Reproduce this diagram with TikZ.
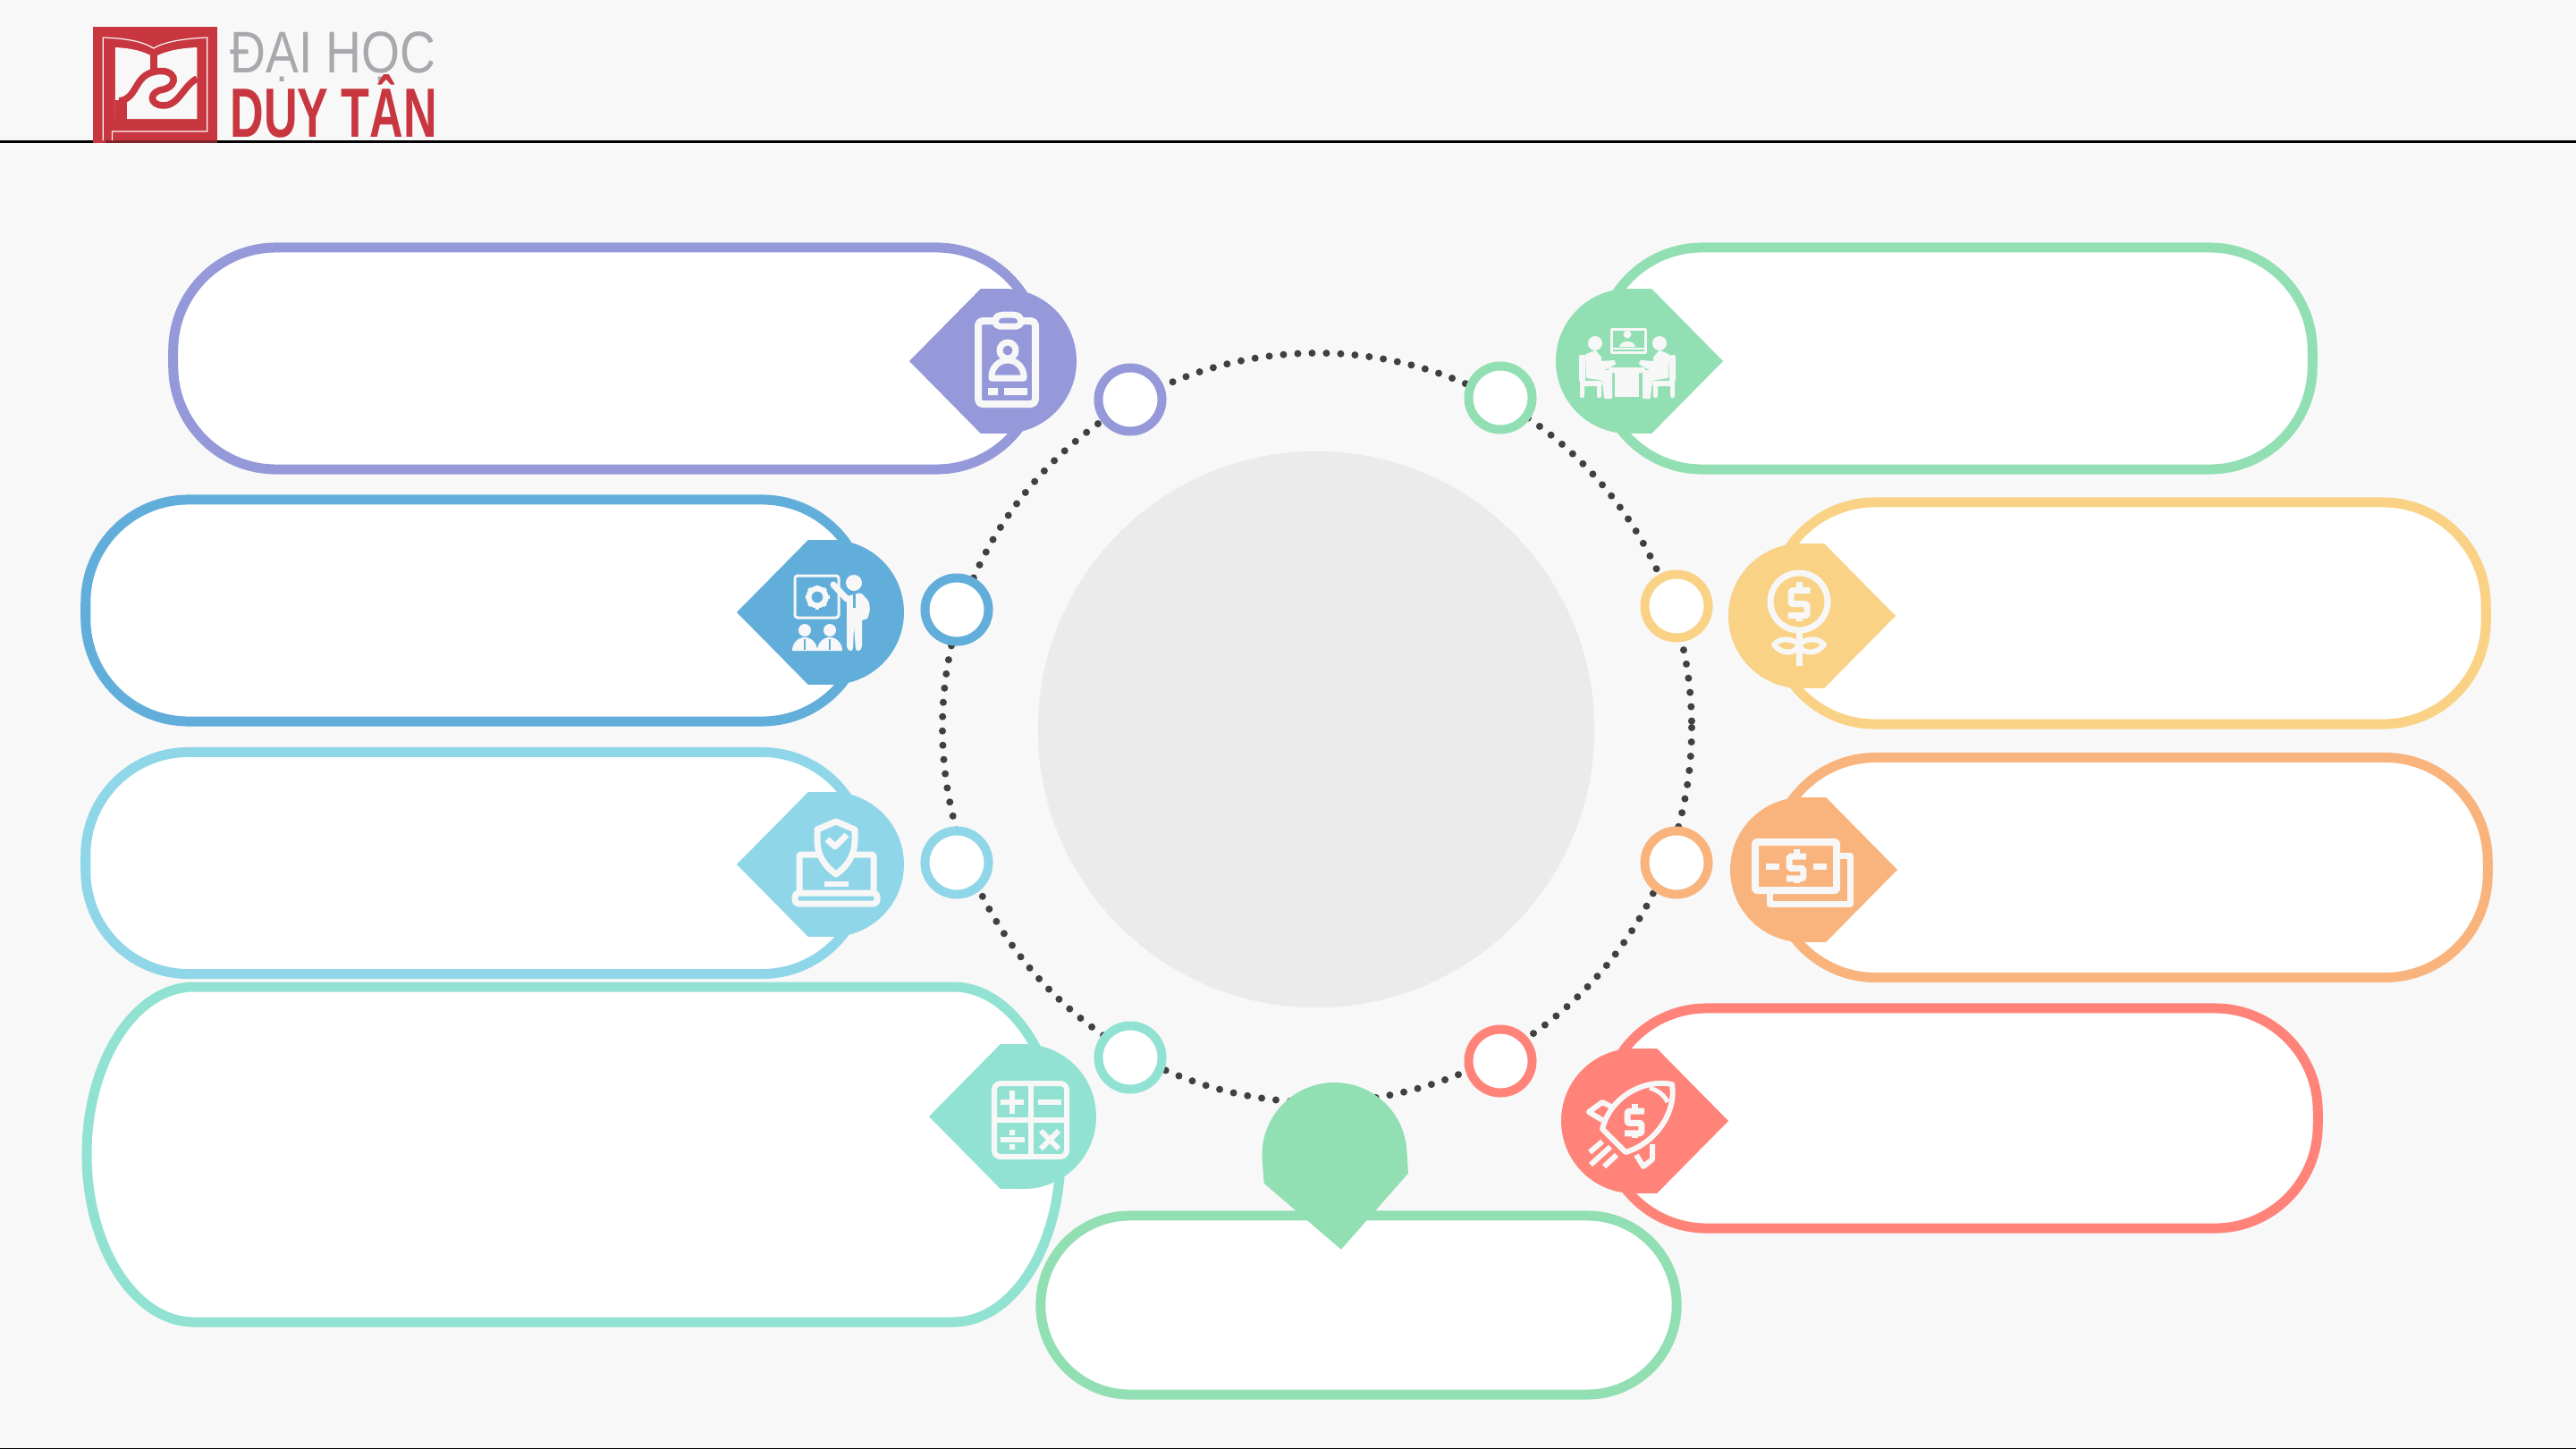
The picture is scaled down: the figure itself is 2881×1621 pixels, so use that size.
\documentclass[tikz,border=0pt]{standalone}
\usepackage{fontspec}
\setmainfont{Liberation Sans}
\usetikzlibrary{positioning}

\definecolor{pagebg}{HTML}{F8F8F8}
\definecolor{hubgrey}{HTML}{EBEBEB}
\definecolor{dotgrey}{HTML}{404040}
\definecolor{iconwhite}{HTML}{F7F7F7}
\definecolor{logored}{HTML}{C8363F}
\definecolor{logogrey}{HTML}{A7A9AC}
\definecolor{cviolet}{HTML}{9599D9}
\definecolor{cblue}{HTML}{62AEDB}
\definecolor{csky}{HTML}{8FD6E8}
\definecolor{cteal}{HTML}{92E2D3}
\definecolor{cgreen}{HTML}{92DFB3}
\definecolor{cyellow}{HTML}{F9D286}
\definecolor{corange}{HTML}{F9B47D}
\definecolor{cred}{HTML}{FF8379}

\newcommand{\badgeshape}[3]{%
  \begin{scope}[shift={(#2)}]
    \fill[#1] (#3:106) -- (#3+72:85) -- (#3+90:81)
      arc[start angle=#3+90, end angle=#3+270, radius=81] -- (#3-72:85) -- cycle;
  \end{scope}}

\tikzset{
  pillbox/.style={draw=#1, fill=white, line width=0.11cm, rounded corners=1.15cm,
    minimum height=2.48cm, inner sep=0},
  ringmark/.style={circle, draw=#1, fill=white, line width=0.1cm, minimum size=0.71cm, inner sep=0},
  dotline/.style={draw=dotgrey, line width=0.08cm, line cap=round, dash pattern=on 0pt off 0.16cm},
  iconline/.style={draw=iconwhite, line width=0.07cm, line join=round},
  iconfill/.style={fill=iconwhite},
  dollarsign/.pic={
    \draw[iconline, rounded corners=0.02cm] (12.7,-12.3) -- (-9,-12.3) -- (-9,2.7) -- (9,2.7) -- (9,15.7) -- (-12.3,15.7);
    \draw[iconline] (0,-21.7) -- (0,-12.3) (0,15.7) -- (0,21.7);
  },
  clipicon/.pic={
    \draw[iconline, line width=0.08cm, rounded corners=0.05cm] (-29,-45) rectangle (35,48);
    \draw[iconline, fill=cviolet, rounded corners=0.05cm] (-10,-39) -- (-10,-48) -- (-5,-52) -- (14,-52) -- (19,-48) -- (19,-39) -- cycle;
    \draw[iconline] (4,-12) circle[radius=9];
    \draw[iconline] (-14,19) -- (-14,17) arc[start angle=180, end angle=360, radius=18] -- (22,19) -- cycle;
    \fill[iconfill] (-18,30) rectangle (-7,38) (0,30) rectangle (26,38);
  },
  sitter/.pic={
    \fill[iconfill] (-37,-20) circle[radius=8];
    \filldraw[iconfill, draw=iconwhite, line width=0.02cm, line join=round] (-47,-7) -- (-37,-11) -- (-31,-4) -- (-31,1) -- (-16,0) -- (-15,3) -- (-30,11) -- (-19,11) -- (-19,41) -- (-26,41) -- (-28,21) -- (-46,18) -- cycle;
    \fill[iconfill, rounded corners=0.02cm] (-55,-7) rectangle (-48,23);
    \fill[iconfill, rounded corners=0.02cm] (-54,22) rectangle (-29,28);
    \fill[iconfill, rounded corners=0.02cm] (-54,26) rectangle (-49,41);
    \fill[iconfill, rounded corners=0.02cm] (-35,26) rectangle (-30,41);
  },
  meeticon/.pic={
    \draw[iconline, line width=0.03cm] (-19,-36) rectangle (19,-10);
    \draw[iconline, line width=0.02cm] (-19,-14) -- (19,-14);
    \fill[iconfill] (-1,-30) circle[radius=4.5];
    \fill[iconfill] (-10,-16) .. controls (-9,-24) and (7,-24) .. (8,-16) -- cycle;
    \pic {sitter};
    \pic[xscale=-1] at (-2,0) {sitter};
    \fill[iconfill, rounded corners=0.02cm] (-22,7) rectangle (19,13);
    \fill[iconfill] (-15,12) rectangle (12,40);
  },
  teachicon/.pic={
    \draw[iconline, line width=0.03cm, rounded corners=0.03cm] (-41,-41) rectangle (8,6);
    \draw[iconline, line width=0.06cm] (-16,-17) circle[radius=9.5];
    \foreach \gearangle in {0,45,...,315}
      \draw[iconline, line width=0.04cm] (-16,-17) ++(\gearangle:10) -- ++(\gearangle:3.5);
    \fill[iconfill] (25,-33) circle[radius=9];
    \fill[iconfill, rounded corners=0.02cm] (17,-18) -- (33,-22) -- (42,-12) -- (43,-2) -- (40,8) -- (34,8) -- (34,40) -- (30,44) -- (27,42) -- (25,15) -- (24,42) -- (21,44) -- (17,40) -- cycle;
    \draw[iconline, line cap=round] (17,-15) -- (2,-31);
    \draw[draw=cblue, line width=0.03cm] (25,-20) -- (25,-5);
    \foreach \seatx in {-30,-2} {
      \fill[iconfill] (\seatx,20) circle[radius=7];
      \fill[iconfill] (\seatx-14,43) arc[start angle=180, end angle=360, x radius=14, y radius=15] -- cycle;
      \draw[draw=cblue, line width=0.02cm] (\seatx,30) -- (\seatx,42);
    }
  },
  flowericon/.pic={
    \draw[iconline] (-2,-16) circle[radius=32];
    \pic at (-2,-16) {dollarsign};
    \draw[iconline] (-2,18) -- (-2,56);
    \draw[iconline, line width=0.06cm] (-30,32) .. controls (-24,25) and (-11,24) .. (-2,32) .. controls (-6,43) and (-21,44) .. cycle;
    \draw[iconline, line width=0.06cm] (26,32) .. controls (20,25) and (7,24) .. (-2,32) .. controls (2,43) and (17,44) .. cycle;
  },
  shieldicon/.pic={
    \draw[iconline, rounded corners=0.02cm] (-36,30) -- (-36,-11) -- (47,-11) -- (47,30);
    \draw[iconline, rounded corners=0.04cm] (-41,32) -- (51,32) -- (51,44) -- (-41,44) -- cycle;
    \fill[iconfill] (-8,19) rectangle (19,25);
    \draw[iconline, fill=csky] (5,-48) -- (-16,-39) -- (-16,-27) .. controls (-16,-8) and (-5,4) .. (5,11) .. controls (15,4) and (26,-8) .. (26,-27) -- (26,-39) -- cycle;
    \draw[iconline] (-5,-28) -- (4,-20) -- (17,-33);
  },
  moneyicon/.pic={
    \draw[iconline] (42,-16) -- (53,-16) -- (53,38) -- (-37,38) -- (-37,26);
    \draw[iconline, line width=0.08cm, rounded corners=0.02cm] (-53,-31) rectangle (38,23);
    \draw[iconline] (-41,-4) -- (-26,-4) (12,-4) -- (27,-4);
    \pic[scale=.88] at (-7,-4) {dollarsign};
  },
  calcicon/.pic={
    \draw[iconline, line width=0.06cm, rounded corners=0.07cm] (-33,-37) rectangle (48,45);
    \draw[iconline, line width=0.06cm] (8,-37) -- (8,45) (-33,4) -- (48,4);
    \draw[iconline, line width=0.06cm] (-26,-16) -- (0,-16) (-13,-29) -- (-13,-3);
    \draw[iconline, line width=0.06cm] (16,-16) -- (42,-16);
    \draw[iconline, line width=0.06cm] (-26,26) -- (1,26);
    \fill[iconfill] (-16,15) rectangle (-10,21) (-16,31) rectangle (-10,37);
    \draw[iconline, line width=0.06cm] (19,16) -- (39,36) (19,36) -- (39,16);
  },
  rocketicon/.pic={
    \draw[iconline, line width=0.06cm] (43,-41) .. controls (15,-47) and (-25,-30) .. (-35,9) -- (-9,35) .. controls (25,25) and (48,-10) .. cycle;
    \draw[iconline, line width=0.05cm] (18,-37) .. controls (28,-34) and (35,-28) .. (38,-21);
    \pic[scale=.88] at (1,0) {dollarsign};
    \draw[iconline, line width=0.06cm] (-25,-16) -- (-35,-21) -- (-50,-10) -- (-35,-1);
    \draw[iconline, line width=0.06cm] (21,26) -- (21,43) -- (11,51) -- (3,38);
    \draw[iconline, line width=0.06cm] (-35,23) -- (-49,35) (-26,29) -- (-48,49) (-19,38) -- (-33,51);
  },
}

\begin{document}
\begin{tikzpicture}[x=0.01cm,y=-0.01cm]

  \useasboundingbox (0,0) rectangle (2881,1621);
  \fill[pagebg] (0,0) rectangle (2881,1621);

  % Header
  \draw[black, line width=0.03cm] (0,158.5) -- (2881,158.5);
  \draw[black, line width=0.015cm] (0,1620.5) -- (2881,1620.5);

  % Logo
  \begin{scope}[shift={(104,0)}, xscale=1.13, shift={(-90,0)}]
    \fill[logored] (90,30) rectangle (213,160);
    \fill[black!35!logored] (102,157) rectangle (213,160);
    \draw[pagebg, line width=0.012cm] (100,157) -- (100,42) .. controls (125,43) and (140,47) .. (150,54) .. controls (160,47) and (180,43) .. (203,42) -- (203,147) -- (109,147) -- (109,157);
    \fill[pagebg] (112,53) .. controls (128,54) and (140,57) .. (150,64) .. controls (162,57) and (175,54) .. (193,53) -- (193,133) -- (112,133) -- cycle;
    \draw[logored, line width=0.08cm] (150,55) -- (150,80);
    \fill[logored] (112,112) -- (124,112) -- (124,136) -- (112,136) -- cycle;
    \draw[logored, line width=0.075cm] (116,113) .. controls (135,110) and (130,84) .. (152,80) .. controls (172,76) and (176,95) .. (160,100) .. controls (145,102) and (145,118) .. (160,118) .. controls (175,118) and (180,95) .. (193,88);
  \end{scope}
  \node[anchor=base west, inner sep=0, text=logogrey, font=\fontsize{18.7}{20}\selectfont, xscale=.84, transform shape] (logotop) at (257,81) {ĐẠI HỌC};
  \node[anchor=base west, inner sep=0, text=logored, font=\fontsize{22.2}{24}\bfseries, xscale=.667, transform shape] (logobottom) at (257,153) {DUY TÂN};

  % Circle and dots
  \coordinate (dotcentre) at (1473,814);
  \draw[dotline] (dotcentre) circle[radius=419];
  \node[circle, fill=hubgrey, minimum size=6.22cm, inner sep=0] (hub) at (1472,816) {};

  % Rings
  \node[ringmark=cviolet] (ring_a) at (1264,447) {};
  \node[ringmark=cblue] (ring_b) at (1070,682) {};
  \node[ringmark=csky] (ring_c) at (1070,965) {};
  \node[ringmark=cteal] (ring_d) at (1264,1183) {};
  \node[ringmark=cgreen] (ring_e) at (1678,445) {};
  \node[ringmark=cyellow] (ring_f) at (1875,678) {};
  \node[ringmark=corange] (ring_g) at (1875,965) {};
  \node[ringmark=cred] (ring_h) at (1678,1187) {};

  % Pills
  \node[pillbox=cviolet, minimum width=9.68cm] (pill_a) at (678,401) {};
  \node[pillbox=cblue, minimum width=8.71cm] (pill_b) at (531.5,683) {};
  \node[pillbox=csky, minimum width=8.71cm] (pill_c) at (531.5,965.5) {};
  \draw[cteal, fill=white, line width=0.11cm] (217,1104) -- (1066,1104)
    arc[start angle=-90, end angle=0, x radius=120, y radius=187.5] -- (1186,1291.5)
    arc[start angle=0, end angle=90, x radius=120, y radius=187.5] -- (217,1479)
    arc[start angle=90, end angle=180, x radius=120, y radius=187.5]
    arc[start angle=180, end angle=270, x radius=120, y radius=187.5] -- cycle;
  \node[pillbox=cgreen, minimum width=7.97cm] (pill_e) at (2187.5,401) {};
  \node[pillbox=cyellow, minimum width=7.98cm, minimum height=2.48cm] (pill_f) at (2381,686) {};
  \node[pillbox=corange, minimum width=7.99cm, minimum height=2.46cm] (pill_g) at (2382.5,970.5) {};
  \node[pillbox=cred, minimum width=7.98cm, minimum height=2.46cm] (pill_h) at (2193,1251) {};
  \node[pillbox=cgreen, minimum width=7.11cm, minimum height=2cm, rounded corners=1cm] (pill_i) at (1519.5,1460) {};

  % Badges
  \badgeshape{cviolet}{1123,404}{180}
  \badgeshape{cblue}{930,685}{180}
  \badgeshape{csky}{930,967}{180}
  \badgeshape{cteal}{1145,1249}{180}
  \badgeshape{cgreen}{1821,404}{0}
  \badgeshape{cyellow}{2014,689}{0}
  \badgeshape{corange}{2016,973}{0}
  \badgeshape{cred}{1827,1254}{0}
  \badgeshape{cgreen}{1492.5,1292}{86}

  % Icons
  \pic at (1123,404) {clipicon};
  \pic at (930,685) {teachicon};
  \pic at (930,967) {shieldicon};
  \pic at (1145,1249) {calcicon};
  \pic at (1821,404) {meeticon};
  \pic at (2014,689) {flowericon};
  \pic at (2016,973) {moneyicon};
  \pic at (1827,1254) {rocketicon};

\end{tikzpicture}
\end{document}
